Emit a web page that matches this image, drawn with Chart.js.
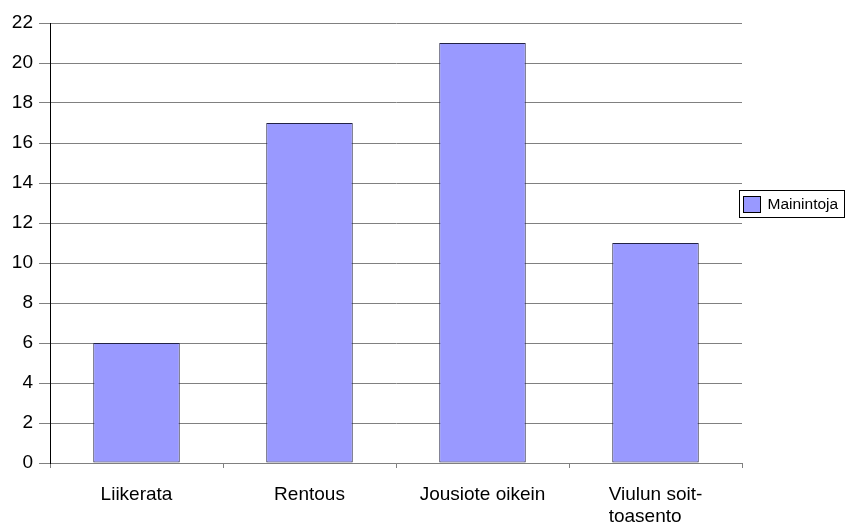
<!DOCTYPE html>
<html>
<head>
<meta charset="utf-8">
<script src="https://cdn.jsdelivr.net/npm/chart.js@4"></script>
<style>
  html, body { margin: 0; padding: 0; background: #ffffff; }
  #wrap { width: 846px; height: 522px; }
</style>
</head>
<body>
<div id="wrap"><canvas id="c" width="846" height="522"></canvas></div>
<script>
const categories = ['Liikerata', 'Rentous', 'Jousiote oikein', ['Viulun soit-', 'toasento']];
const seriesName = 'Mainintoja';
const seriesValues = [6, 17, 21, 11];
const yTicks = [0, 2, 4, 6, 8, 10, 12, 14, 16, 18, 20, 22];

const FONT = '"Liberation Sans", Arial, sans-serif';

// Category labels: wrapped lines share a left edge, block centred under its tick
const blockLabels = {
  id: 'blockLabels',
  afterDraw(chart) {
    const ctx = chart.ctx;
    const xs = chart.scales.x;
    ctx.save();
    ctx.font = '19px ' + FONT;
    ctx.fillStyle = '#000000';
    ctx.textAlign = 'left';
    ctx.textBaseline = 'alphabetic';
    chart.data.labels.forEach((lab, i) => {
      const lines = Array.isArray(lab) ? lab : [lab];
      const w = Math.max(...lines.map(l => ctx.measureText(l).width));
      const cx = xs.getPixelForTick(i);
      const left = cx - w / 2;
      lines.forEach((l, j) => {
        ctx.fillText(l, left, xs.top + 37 + j * 21.5);
      });
    });
    ctx.restore();
  }
};

// Boxed legend to the right of the plot area
const boxLegend = {
  id: 'boxLegend',
  afterDraw(chart) {
    const ctx = chart.ctx;
    const ds = chart.data.datasets[0];
    const x = 739.5, y = 190.5, w = 105, h = 27;
    ctx.save();
    ctx.fillStyle = '#ffffff';
    ctx.fillRect(x, y, w, h);
    ctx.strokeStyle = '#000000';
    ctx.lineWidth = 1;
    ctx.strokeRect(x, y, w, h);
    ctx.fillStyle = ds.backgroundColor;
    ctx.fillRect(x + 4, y + 6, 17, 16);
    ctx.strokeRect(x + 4, y + 6, 17, 16);
    ctx.fillStyle = '#000000';
    ctx.font = '15.5px ' + FONT;
    ctx.textBaseline = 'middle';
    ctx.textAlign = 'left';
    ctx.fillText(ds.label, x + 28, y + h / 2 + 0.5);
    ctx.restore();
  }
};

new Chart(document.getElementById('c'), {
  type: 'bar',
  data: {
    labels: categories,
    datasets: [{
      label: seriesName,
      data: seriesValues,
      backgroundColor: '#9999ff',
      borderColor: '#222244',
      borderWidth: 1,
      borderSkipped: false,
      barPercentage: 0.5,
      categoryPercentage: 1.0
    }]
  },
  options: {
    responsive: false,
    animation: false,
    devicePixelRatio: 1,
    layout: { padding: { top: 23, right: 104, left: 0, bottom: 0 } },
    plugins: {
      legend: { display: false },
      tooltip: { enabled: false }
    },
    scales: {
      x: {
        grid: {
          offset: true,
          drawOnChartArea: false,
          drawTicks: true,
          tickLength: 5,
          color: '#808080'
        },
        border: { color: '#808080' },
        ticks: { display: false, autoSkip: false, maxRotation: 0 },
        afterFit(scale) { scale.height = 59; }
      },
      y: {
        min: 0,
        max: 22,
        afterBuildTicks(scale) { scale.ticks = yTicks.map(v => ({ value: v })); },
        grid: {
          color: '#808080',
          tickLength: 11,
          drawTicks: true
        },
        border: { color: '#000000' },
        ticks: {
          color: '#000000',
          font: { family: FONT, size: 19 },
          padding: 6
        },
        afterFit(scale) { scale.width = 50; }
      }
    }
  },
  plugins: [boxLegend, blockLabels]
});
</script>
</body>
</html>
